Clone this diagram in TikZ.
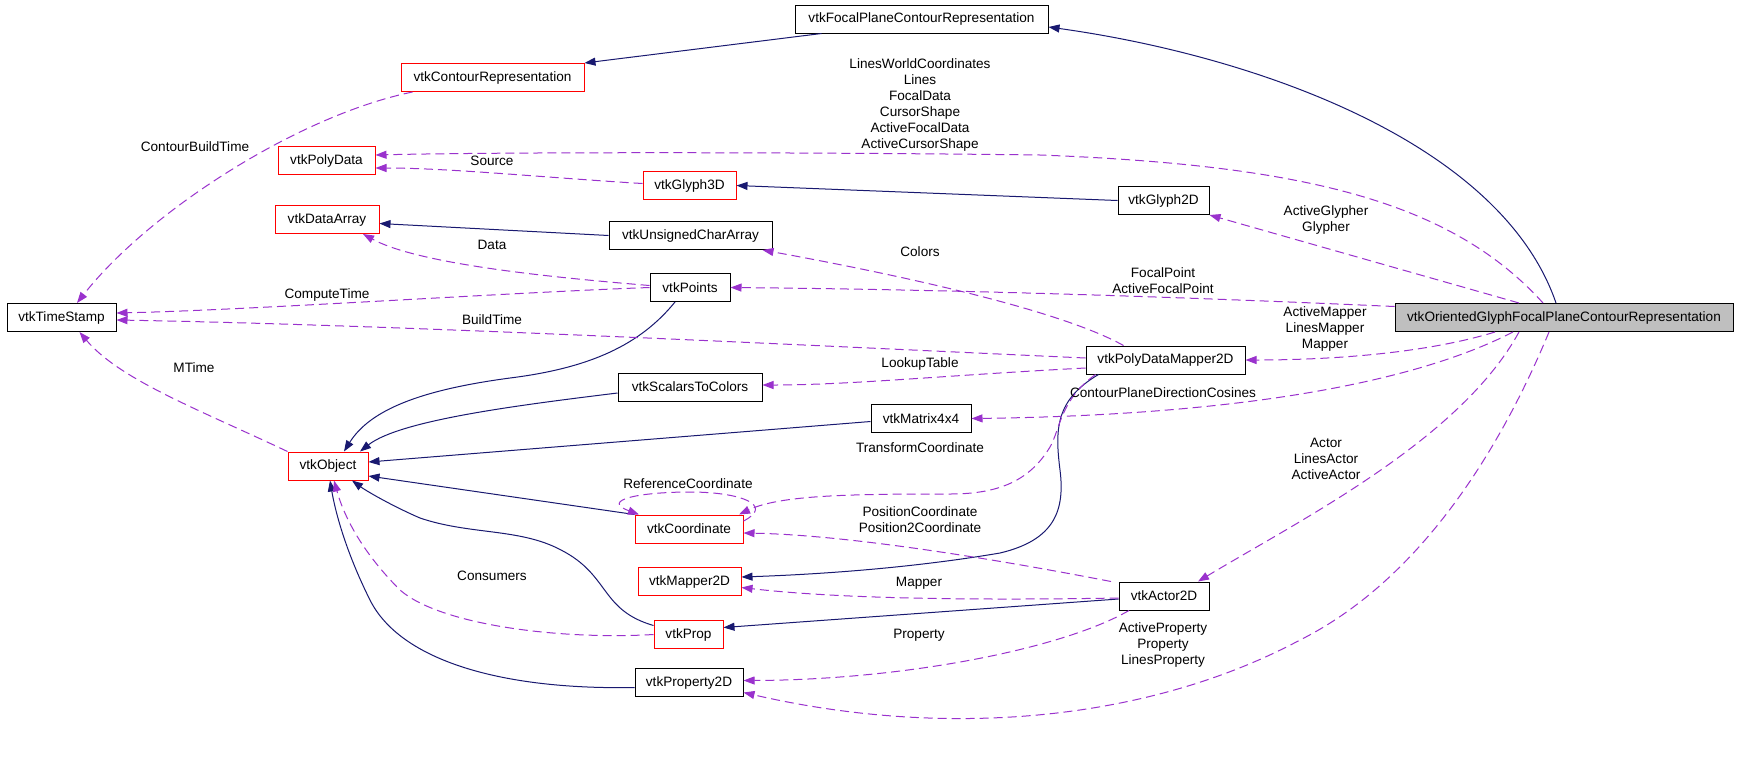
\documentclass[tikz,border=0pt]{standalone}
\usepackage{fontspec}
\setmainfont{Liberation Sans}
\usetikzlibrary{arrows.meta}
\definecolor{navy}{HTML}{191970}
\definecolor{purp}{HTML}{9A32CD}
\definecolor{grayfill}{HTML}{BFBFBF}
\newcommand\dgfont{\fontsize{13.6}{16}\selectfont}
\begin{document}
\begin{tikzpicture}[x=1pt,y=-1pt,
  cls/.style={draw=black, line width=1pt, minimum height=28pt, inner sep=0pt, font=\dgfont},
  inc/.style={cls, draw=red},
  lbl/.style={font=\dgfont, align=center, inner sep=0pt},
  inh/.style={draw=navy, line width=1pt, -{Triangle[length=11pt,width=8pt]}},
  use/.style={draw=purp, line width=1pt, dash pattern=on 9pt off 5pt, -{Triangle[length=11pt,width=8pt]}}]
\useasboundingbox (0,0) rectangle (1739,756);
\fill[white] (0,0) rectangle (1739,756);
% nodes
\node[cls, minimum width=253pt] (FP) at (921.5,19) {vtkFocalPlaneContourRepresentation};
\node[inc, minimum width=183pt] (CR) at (492.5,77.5) {vtkContourRepresentation};
\node[inc, minimum width=97pt] (PD) at (326.5,160.5) {vtkPolyData};
\node[inc, minimum width=93pt] (G3) at (689.5,185.5) {vtkGlyph3D};
\node[cls, minimum width=91pt] (G2) at (1163.5,200.5) {vtkGlyph2D};
\node[inc, minimum width=104pt] (DA) at (327,219.5) {vtkDataArray};
\node[cls, minimum width=163pt] (UCA) at (690.5,235.5) {vtkUnsignedCharArray};
\node[cls, minimum width=80pt] (PT) at (690,287.5) {vtkPoints};
\node[cls, minimum width=109pt] (TS) at (61.5,317.5) {vtkTimeStamp};
\node[cls, fill=grayfill, minimum width=338pt] (OR) at (1564,317.5) {vtkOrientedGlyphFocalPlaneContourRepresentation};
\node[cls, minimum width=159pt] (PDM) at (1165.5,360) {vtkPolyDataMapper2D};
\node[cls, minimum width=144pt] (STC) at (690,387) {vtkScalarsToColors};
\node[cls, minimum width=100pt] (MX) at (921,418.5) {vtkMatrix4x4};
\node[inc, minimum width=80pt] (OBJ) at (328,466) {vtkObject};
\node[inc, minimum width=108pt] (CO) at (689,529) {vtkCoordinate};
\node[inc, minimum width=103pt] (M2) at (689.5,581.5) {vtkMapper2D};
\node[cls, minimum width=90pt] (A2) at (1164,596) {vtkActor2D};
\node[inc, minimum width=69pt] (PR) at (688.5,634.5) {vtkProp};
\node[cls, minimum width=108pt] (P2) at (689,682.5) {vtkProperty2D};
% inheritance
\draw[inh] ([xshift=-8pt]OR.north) .. controls (1500,140) and (1250,55) .. ([yshift=-8pt]FP.east);
\draw[inh] ([xshift=-100pt]FP.south) -- (CR.north east);
\draw[inh] (G2.west) -- (G3.east);
\draw[inh] (UCA.west) -- ([yshift=-4pt]DA.east);
\draw[inh] ([xshift=-15pt]PT.south) .. controls (640,345) and (590,368) .. (510,378) .. controls (420,390) and (370,410) .. ([xshift=16pt]OBJ.north);
\draw[inh] ([yshift=-6pt]STC.west) .. controls (520,405) and (400,420) .. ([xshift=32pt]OBJ.north);
\draw[inh] ([yshift=-3pt]MX.west) -- ([yshift=4pt]OBJ.east);
\draw[inh] (CO.north west) -- ([yshift=-10pt]OBJ.east);
\draw[inh] ([yshift=9pt]PR.west) .. controls (600,610) and (610,575) .. (561,550) .. controls (520,528) and (470,535) .. (420,518) .. controls (390,505) and (365,490) .. ([xshift=24pt]OBJ.south);
\draw[inh] ([yshift=-5pt]P2.west) .. controls (500,690) and (400,660) .. (370,600) .. controls (345,550) and (335,510) .. ([xshift=2pt]OBJ.south);
\draw[inh] ([xshift=-67pt]PDM.south) .. controls (1055,400) and (1055,430) .. (1060,470) .. controls (1065,510) and (1055,540) .. (1000,553) .. controls (900,570) and (800,575) .. ([yshift=4.5pt]M2.east);
\draw[inh] ([yshift=-3pt]A2.west) -- ([yshift=7pt]PR.east);
% usage
\draw[use] ([xshift=-21pt]OR.north) .. controls (1450,200) and (1300,165) .. (1040,155) .. controls (800,152) and (500,152) .. ([yshift=5.5pt]PD.east);
\draw[use] ([yshift=2pt]G3.west) .. controls (550,178) and (450,168) .. ([yshift=-7.5pt]PD.east);
\draw[use] ([xshift=-80pt]CR.south) .. controls (300,115) and (150,210) .. ([xshift=15.5pt]TS.north);
\draw[use] ([xshift=-45pt]OR.north) -- (G2.south east);
\draw[use] ([yshift=2pt]PT.west) .. controls (560,278) and (420,265) .. ([xshift=36pt]DA.south);
\draw[use] ([xshift=-42pt]PDM.north) .. controls (1060,310) and (900,275) .. ([xshift=72pt]UCA.south);
\draw[use] ([yshift=11pt]OR.west) .. controls (1250,300) and (1000,290) .. (PT.east);
\draw[use] (PT.west) .. controls (500,293) and (250,310) .. ([yshift=4.5pt]TS.east);
\draw[use] ([yshift=2pt]PDM.west) .. controls (800,345) and (400,325) .. ([yshift=-2.5pt]TS.east);
\draw[use] ([xshift=-69pt]OR.south) .. controls (1420,355) and (1320,360) .. (PDM.east);
\draw[use] ([yshift=-8pt]PDM.west) .. controls (950,375) and (850,385) .. ([yshift=2pt]STC.east);
\draw[use] ([xshift=-51pt]OR.south) .. controls (1420,380) and (1250,415) .. (MX.east);
\draw[use] (OBJ.north west) .. controls (200,410) and (120,380) .. ([xshift=18pt]TS.south);
\draw[use] ([yshift=8pt]CO.east) .. controls (775,505) and (740,492) .. (690,492) .. controls (640,492) and (600,500) .. ([xshift=-50pt]CO.north);
\draw[use] ([xshift=-70pt]PDM.south) .. controls (1060,400) and (1060,430) .. (1050,447) .. controls (1030,480) and (1000,494) .. (950,494) .. controls (850,494) and (780,495) .. ([xshift=50pt]CO.north);
\draw[use] ([xshift=-53pt]A2.north) .. controls (1000,560) and (850,535) .. ([yshift=-4pt]CO.east);
\draw[use] ([yshift=-2pt]A2.west) .. controls (1000,600) and (850,600) .. ([yshift=-6pt]M2.east);
\draw[use] ([xshift=-45pt]OR.south) .. controls (1460,440) and (1300,520) .. ([xshift=34pt]A2.north);
\draw[use] (PR.west) .. controls (560,640) and (440,625) .. (400,590) .. controls (365,555) and (345,520) .. ([xshift=6pt]OBJ.south);
\draw[use] ([xshift=-35pt]A2.south) .. controls (1060,650) and (900,680) .. ([yshift=2pt]P2.east);
\draw[use] ([xshift=-15pt]OR.south) .. controls (1500,450) and (1420,580) .. (1300,640) .. controls (1150,720) and (950,740) .. ([yshift=-10pt]P2.east);
% labels
\node[lbl] (l1) at (920,105) {LinesWorldCoordinates\\Lines\\FocalData\\CursorShape\\ActiveFocalData\\ActiveCursorShape};
\node[lbl] (l2) at (492,161) {Source};
\node[lbl] (l3) at (195,147) {ContourBuildTime};
\node[lbl] (l4) at (1326,220) {ActiveGlypher\\Glypher};
\node[lbl] (l5) at (492,245) {Data};
\node[lbl] (l6) at (920,252) {Colors};
\node[lbl] (l7) at (1163,281) {FocalPoint\\ActiveFocalPoint};
\node[lbl] (l8) at (327,295) {ComputeTime};
\node[lbl] (l9) at (492,320) {BuildTime};
\node[lbl] (l10) at (1325,329) {ActiveMapper\\LinesMapper\\Mapper};
\node[lbl] (l11) at (920,364) {LookupTable};
\node[lbl] (l12) at (194,368) {MTime};
\node[lbl] (l13) at (1163,393) {ContourPlaneDirectionCosines};
\node[lbl] (l14) at (920,448) {TransformCoordinate};
\node[lbl] (l15) at (1326,459) {Actor\\LinesActor\\ActiveActor};
\node[lbl] (l16) at (688,484) {ReferenceCoordinate};
\node[lbl] (l17) at (920,520) {PositionCoordinate\\Position2Coordinate};
\node[lbl] (l18) at (919,583) {Mapper};
\node[lbl] (l19) at (492,576) {Consumers};
\node[lbl] (l20) at (919,635) {Property};
\node[lbl] (l21) at (1163,645) {ActiveProperty\\Property\\LinesProperty};
\end{tikzpicture}
\end{document}
